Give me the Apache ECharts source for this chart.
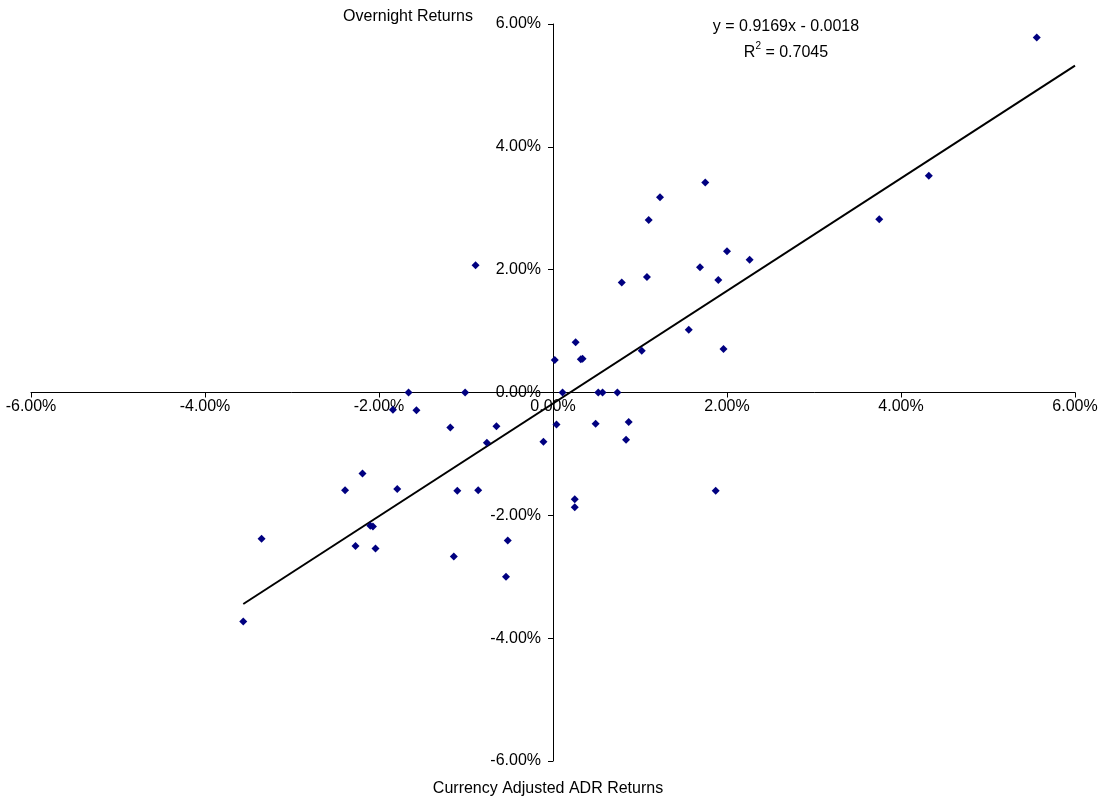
<!DOCTYPE html>
<html>
<head>
<meta charset="utf-8">
<script src="https://cdn.jsdelivr.net/npm/echarts@6/dist/echarts.min.js"></script>
<style>html,body{margin:0;padding:0;background:#fff;}#c{width:1100px;height:798px;}</style>
</head>
<body>
<div id="c"></div>
<script>
// Currency Adjusted ADR Returns (%), x values
var adrReturns = [5.56, 4.32, 3.75, 1.75, 1.23, 1.10, 2.00, 2.26, 1.69, 1.90, 1.08, 0.79, 1.56, 1.96, 1.02, 0.26, 0.32, 0.34, 0.02,
  0.11, 0.52, 0.57, 0.74, 0.49, 0.87, 0.84, 0.25, 0.25, 1.87, 0.04,
  -0.89, -1.01, -1.66, -3.56, -3.35, -2.39, -2.19, -2.27, -2.10, -2.07, -2.04, -1.79, -1.84, -1.57, -1.18, -0.65, -0.76,
  -1.10, -0.86, -1.14, -0.52, -0.54, -0.11];
// Overnight Returns (%), y values
var overnightReturns = [5.78, 3.53, 2.82, 3.42, 3.18, 2.81, 2.30, 2.16, 2.04, 1.83, 1.88, 1.79, 1.02, 0.71, 0.68, 0.82, 0.54, 0.55, 0.53,
  0.00, 0.00, 0.00, 0.00, -0.51, -0.48, -0.77, -1.74, -1.87, -1.60, -0.52,
  2.07, 0.00, 0.00, -3.73, -2.38, -1.59, -1.32, -2.50, -2.17, -2.18, -2.54, -1.57, -0.28, -0.29, -0.57, -0.55, -0.82,
  -1.60, -1.59, -2.67, -2.41, -3.00, -0.80];
// Trendline coefficients (in fractional units, as displayed)
var slope = 0.9169;
var intercept = -0.0018;
var rSquared = 0.7045;
var trendRange = [-3.56, 6.0];
var axisTicks = [-6, 6, 2];

var points = adrReturns.map(function (x, i) { return [x, overnightReturns[i]]; });
var trend = trendRange.map(function (x) { return [x, slope * x + intercept * 100]; });

var W = 1100, H = 798;
var gridBox = {left: 31, right: 25, top: 24, bottom: 37};
var plotW = W - gridBox.left - gridBox.right;
var plotH = H - gridBox.top - gridBox.bottom;

var chart = echarts.init(document.getElementById('c'), null, {renderer: 'canvas'});
var font = 'Liberation Sans, Arial, sans-serif';
function fmt(v) { return v.toFixed(2) + '%'; }
chart.setOption({
  animation: false,
  backgroundColor: '#ffffff',
  grid: {left: gridBox.left, right: gridBox.right, top: gridBox.top, bottom: gridBox.bottom, containLabel: false, outerBoundsMode: 'none'},
  xAxis: {
    type: 'value', min: axisTicks[0], max: axisTicks[1], interval: axisTicks[2],
    position: 'bottom', offset: -plotH / 2,
    axisLine: {onZero: false, lineStyle: {color: '#000', width: 1}},
    axisTick: {show: true, length: 5, inside: false, lineStyle: {color: '#000'}},
    axisLabel: {formatter: fmt, color: '#000', fontSize: 16, fontFamily: font, margin: 6, showMinLabel: true, showMaxLabel: true, hideOverlap: false},
    splitLine: {show: false}
  },
  yAxis: {
    type: 'value', min: axisTicks[0], max: axisTicks[1], interval: axisTicks[2],
    position: 'left', offset: -plotW / 2,
    axisLine: {onZero: false, lineStyle: {color: '#000', width: 1}},
    axisTick: {show: true, length: 5, lineStyle: {color: '#000'}},
    axisLabel: {formatter: fmt, color: '#000', fontSize: 16, fontFamily: font, margin: 12, showMinLabel: true, showMaxLabel: true, hideOverlap: false},
    splitLine: {show: false}
  },
  series: [
    {
      type: 'line', data: trend, showSymbol: false, symbol: 'none',
      lineStyle: {color: '#000', width: 2}, z: 2, silent: true
    },
    {
      type: 'scatter', data: points, symbol: 'diamond', symbolSize: 8,
      itemStyle: {color: '#000080', opacity: 1}, z: 3
    }
  ],
  graphic: [
    {type: 'text', style: {text: 'Overnight Returns', x: 408, y: 17, fill: '#000', font: '16px ' + font, textAlign: 'center', textVerticalAlign: 'middle'}},
    {type: 'text', style: {text: 'y = 0.9169x - 0.0018', x: 786, y: 27, fill: '#000', font: '16px ' + font, textAlign: 'center', textVerticalAlign: 'middle'}},
    {type: 'text', style: {
      text: '{n|R}{s|2}{n| = ' + rSquared.toFixed(4) + '}', x: 786, y: 51, textAlign: 'center', textVerticalAlign: 'middle',
      rich: {n: {fontSize: 16, fontFamily: font, fill: '#000', color: '#000', verticalAlign: 'bottom', lineHeight: 20},
             s: {fontSize: 10, fontFamily: font, fill: '#000', color: '#000', verticalAlign: 'top', lineHeight: 20}}
    }},
    {type: 'text', style: {text: 'Currency Adjusted ADR Returns', x: 548, y: 789, fill: '#000', font: '16px ' + font, textAlign: 'center', textVerticalAlign: 'middle'}}
  ]
});
</script>
</body>
</html>
